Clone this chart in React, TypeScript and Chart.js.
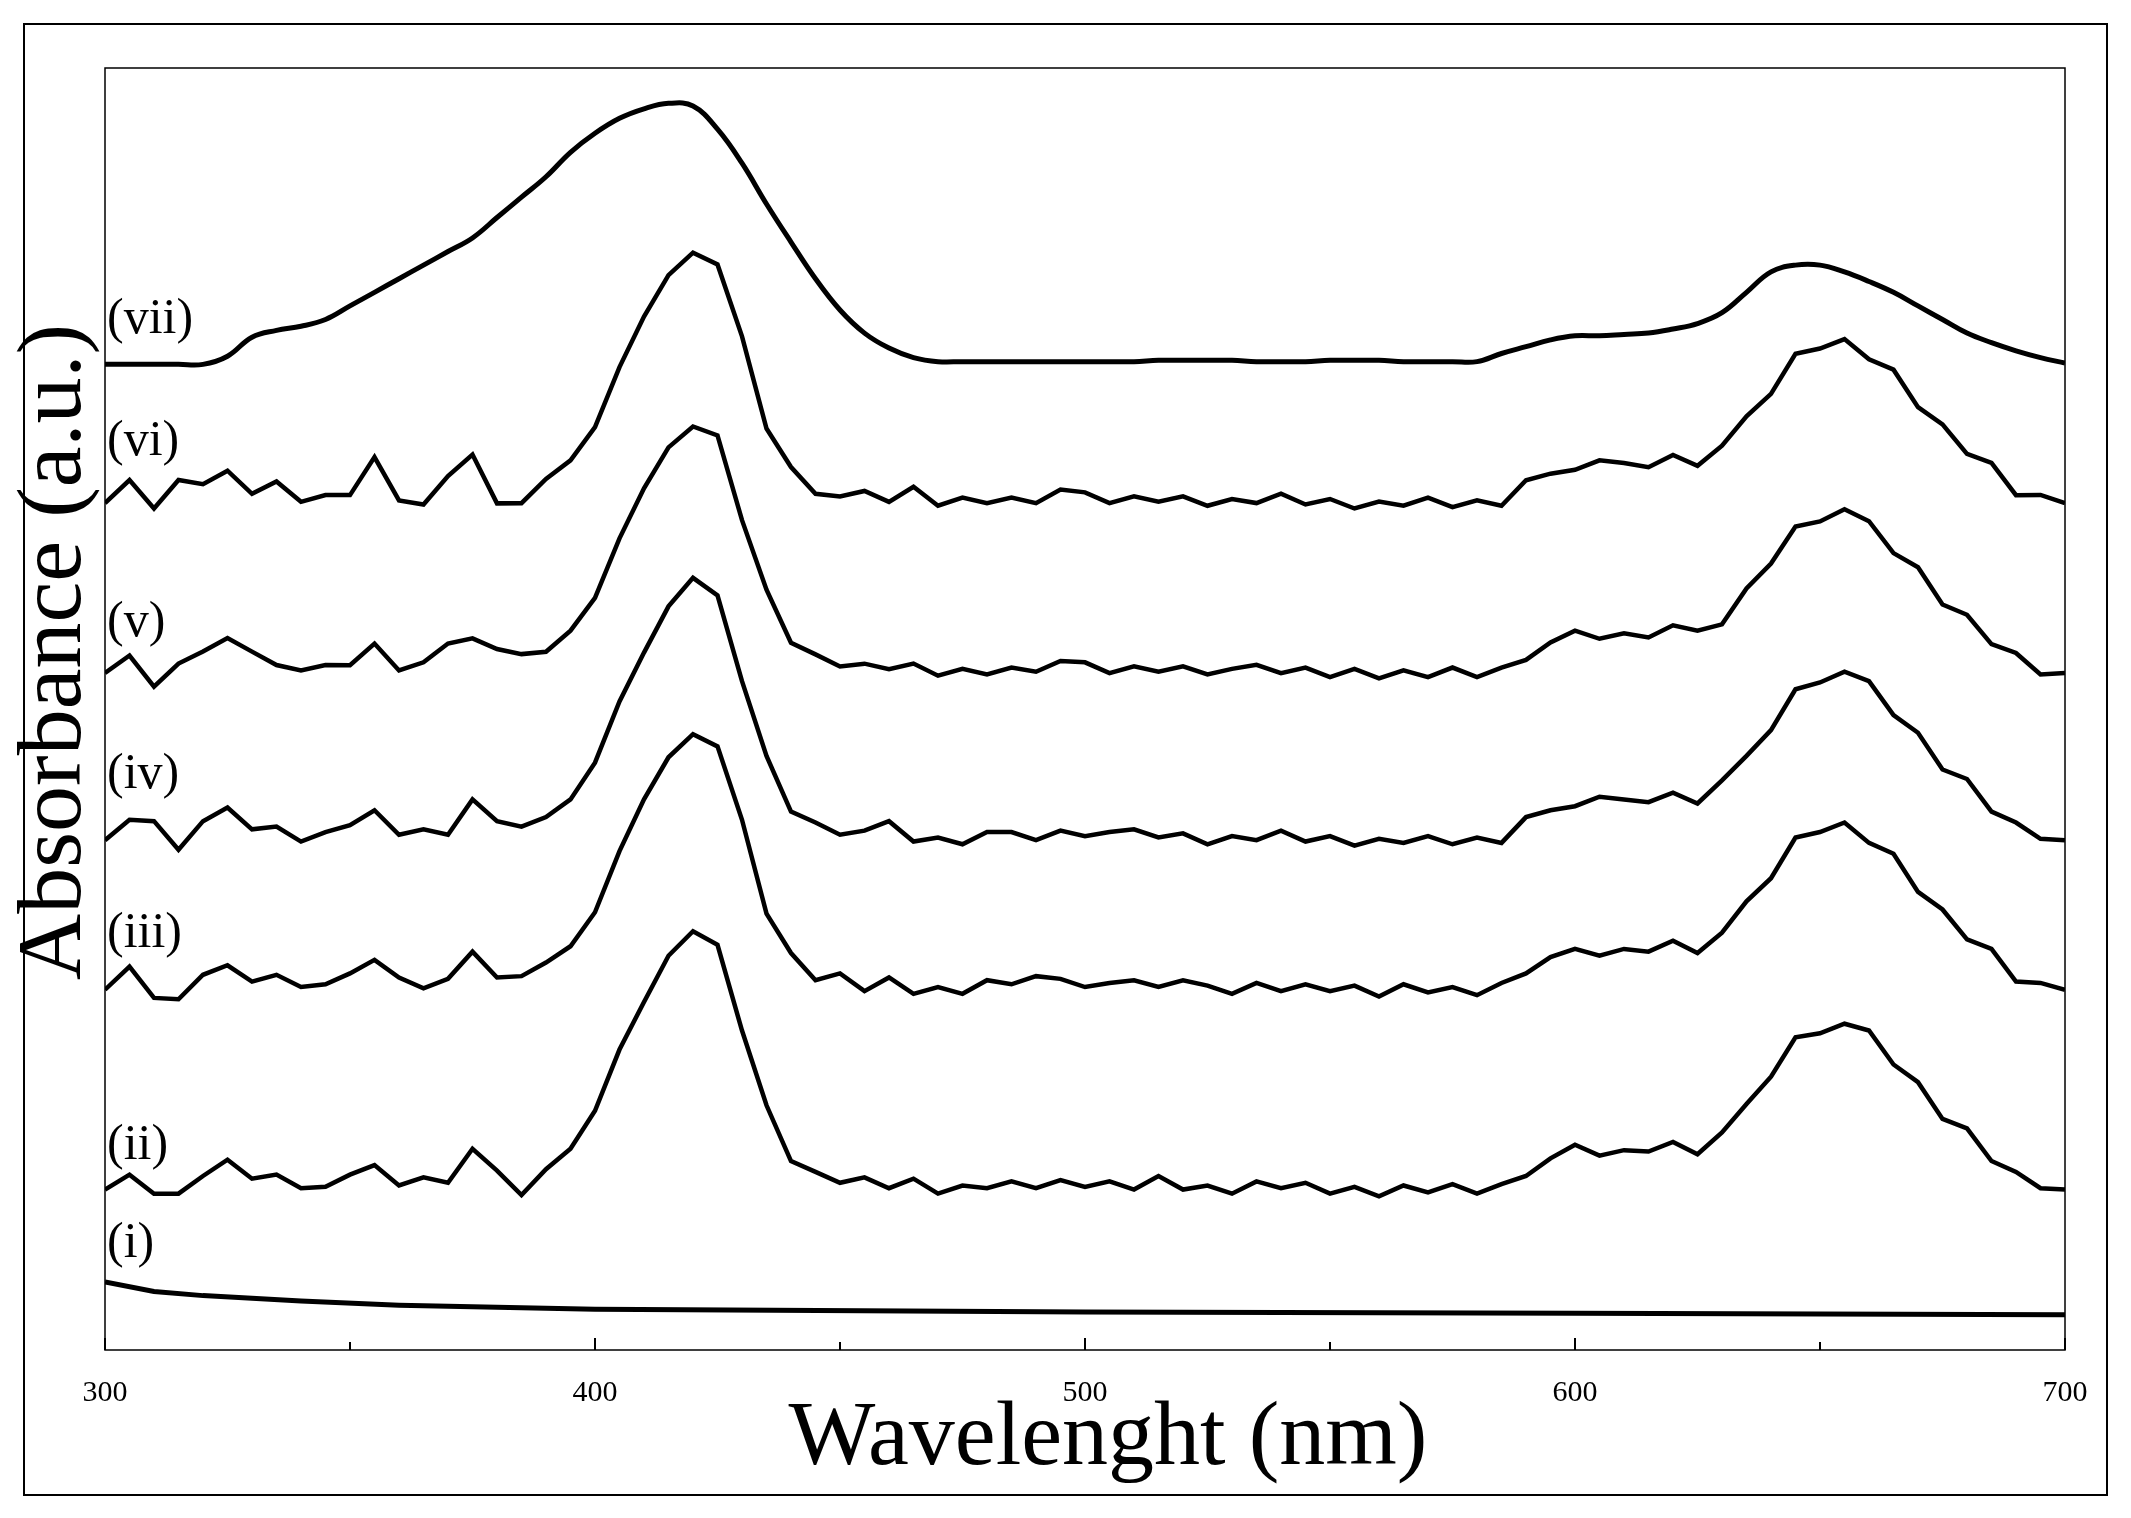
import React, { useEffect, useRef } from "react";
import { Chart, registerables } from "chart.js";
Chart.register(...registerables);

const wavelengths: number[] = Array.from({ length: 81 }, (_, i) => 300 + i * 5);
const shape = [0,5,0,3,8,12,10,6,5,4,8,12,6,5,10,18,12,4,12,30,60,100,140,168,190,175,120,60,25,10,8,5,6,2,0,0,3,2,4,5,6,3,2,5,3,1,0,2,3,2,1,0,-2,0,0,0,0,2,14,20,28,28,25,30,32,30,40,60,85,108,118,120,112,95,75,55,40,25,10,3,0];
const noise2 = [0,6,-3,-6,2,10,-2,5,-4,-2,3,6,-3,4,-5,12,2,-8,3,0,-2,3,-2,4,0,5,-3,2,-4,3,-3,4,-5,6,-3,3,-2,4,-3,2,-4,3,-2,5,-3,2,-3,4,-2,3,-4,2,-3,3,-2,4,-3,2,-4,3,5,-3,4,-2,3,-4,2,3,-2,4,-3,2,5,-3,4,-3,5,-4,3,-2,0];
const noise3 = [0,12,-6,-10,3,6,-4,5,-3,0,4,10,3,-4,-2,10,-3,6,8,2,-3,2,0,3,-2,4,5,-4,2,-3,4,-6,3,-5,2,-3,4,2,6,3,-4,2,5,-3,4,2,-3,3,-4,2,-2,3,-3,4,-2,2,-4,3,-2,4,2,-3,5,-2,4,-3,2,5,-3,4,-2,3,-4,5,-3,4,-3,5,-4,2,0];
const noise4 = [0,10,14,-10,6,12,-2,4,-6,2,3,10,-2,3,-6,12,2,6,5,0,-3,2,-2,4,3,5,-3,2,-4,3,-4,2,8,-3,2,-3,3,4,-4,2,-3,3,6,-3,2,-4,3,-2,4,-3,2,-4,3,-2,3,-3,2,-4,3,2,-3,4,5,-2,3,-3,4,2,-4,3,-2,4,5,-3,4,-3,5,-4,3,-2,0];
const noise5 = [0,8,-10,4,8,14,6,0,-3,2,-2,10,-4,3,12,8,6,10,4,2,-3,2,0,3,-3,5,-4,3,-2,4,-3,2,-3,5,-2,3,-4,2,-3,4,2,-3,3,-4,2,-2,3,4,-3,2,-4,3,-2,2,-3,4,-3,2,-4,3,4,-2,5,-3,4,2,-3,4,-2,3,-3,4,3,-4,5,-3,4,-3,5,-4,0];
const noise6 = [0,12,-4,14,6,12,-3,10,-4,2,-2,22,-4,-6,10,18,-12,-4,6,2,-3,2,0,3,-2,4,5,-4,2,-3,-3,4,-5,10,-2,4,-3,2,-4,5,2,-3,3,-4,2,-3,3,-2,4,-3,2,-4,3,-2,4,-3,2,-4,3,2,-3,4,5,-3,4,-2,3,5,-3,4,-2,3,-4,5,-3,4,-3,5,-4,3,0];
const curve7 = [725,725,725,725,725,731,745,750,753,758,768,778,788,798,808,818,833,848,863,881,895,906,913,917,915,898,873,843,815,788,765,748,737,730,727,727,727,727,727,727,727,727,727,728,728,728,728,727,727,727,728,728,728,727,727,727,727,733,738,743,746,746,747,748,751,755,763,778,793,798,798,793,786,778,768,758,748,741,735,730,726];
const curve1X = [300,310,320,340,360,400,500,600,700];
const curve1Y = [50,43,40,36,33,30,28,27,26];
const baselines = [118, 265, 375, 498, 623];
const peakScale = [1.0, 1.0, 1.0, 0.97, 0.98];
const noises = [noise2, noise3, noise4, noise5, noise6];
const labelTexts = ["(i)", "(ii)", "(iii)", "(iv)", "(v)", "(vi)", "(vii)"];
const labelY = [78, 150, 306, 423, 535, 668, 758];
const xTicks = [300, 400, 500, 600, 700];
const minorTicks = [350, 450, 550, 650];

const F = "'Liberation Serif', 'DejaVu Serif', serif";

export default function App() {
  const ref = useRef<HTMLCanvasElement>(null);
  useEffect(() => {
    document.body.style.margin = "0";
    const ds: any[] = [];
    ds.push({ data: curve1X.map((x, i) => ({ x, y: curve1Y[i] })), borderWidth: 5 });
    noises.forEach((n, k) => {
      ds.push({
        data: wavelengths.map((x, i) => ({ x, y: baselines[k] + shape[i] * peakScale[k] + (n[i] ?? 0) })),
        borderWidth: 4.5,
      });
    });
    ds.push({ data: wavelengths.map((x, i) => ({ x, y: curve7[i] })), borderWidth: 5, tension: 0.4 });
    ds.forEach((d) => { d.borderColor = "#000"; d.pointRadius = 0; d.fill = false; d.tension = d.tension ?? 0; });

    const deco = {
      id: "deco",
      afterDraw(c: any) {
        const ctx = c.ctx, a = c.chartArea, xs = c.scales.x, ys = c.scales.y;
        ctx.save();
        ctx.strokeStyle = "#000";
        ctx.lineWidth = 2;
        ctx.strokeRect(24, 24, 2083, 1471);
        ctx.lineWidth = 1.5;
        ctx.strokeRect(a.left, a.top, a.right - a.left, a.bottom - a.top);
        ctx.lineWidth = 2;
        [...xTicks, ...minorTicks].forEach((t) => {
          const px = xs.getPixelForValue(t);
          const len = xTicks.includes(t) ? 12 : 8;
          ctx.beginPath(); ctx.moveTo(px, a.bottom); ctx.lineTo(px, a.bottom - len); ctx.stroke();
        });
        ctx.fillStyle = "#000";
        ctx.font = `30px ${F}`;
        ctx.textAlign = "center"; ctx.textBaseline = "middle";
        xTicks.forEach((t) => ctx.fillText(String(t), xs.getPixelForValue(t), 1393));
        ctx.font = `92px ${F}`;
        ctx.fillText("Wavelenght (nm)", 1108, 1440);
        ctx.save();
        ctx.translate(56, 652); ctx.rotate(-Math.PI / 2);
        ctx.fillText("Absorbance (a.u.)", 0, 0);
        ctx.restore();
        ctx.font = `50px ${F}`;
        ctx.textAlign = "left";
        labelTexts.forEach((s, i) => ctx.fillText(s, xs.getPixelForValue(300) + 2, ys.getPixelForValue(labelY[i])));
        ctx.restore();
      },
    };

    const chart = new Chart(ref.current!, {
      type: "line",
      data: { datasets: ds },
      options: {
        animation: false,
        responsive: false,
        layout: { padding: { left: 105, right: 66, top: 68, bottom: 168 } },
        plugins: { legend: { display: false }, tooltip: { enabled: false } },
        scales: {
          x: { type: "linear", min: 300, max: 700, display: false },
          y: { min: 0, max: 943, display: false },
        },
      },
      plugins: [deco],
    });
    return () => chart.destroy();
  }, []);
  return <canvas ref={ref} width={2131} height={1518} style={{ display: "block", background: "#fff" }} />;
}
